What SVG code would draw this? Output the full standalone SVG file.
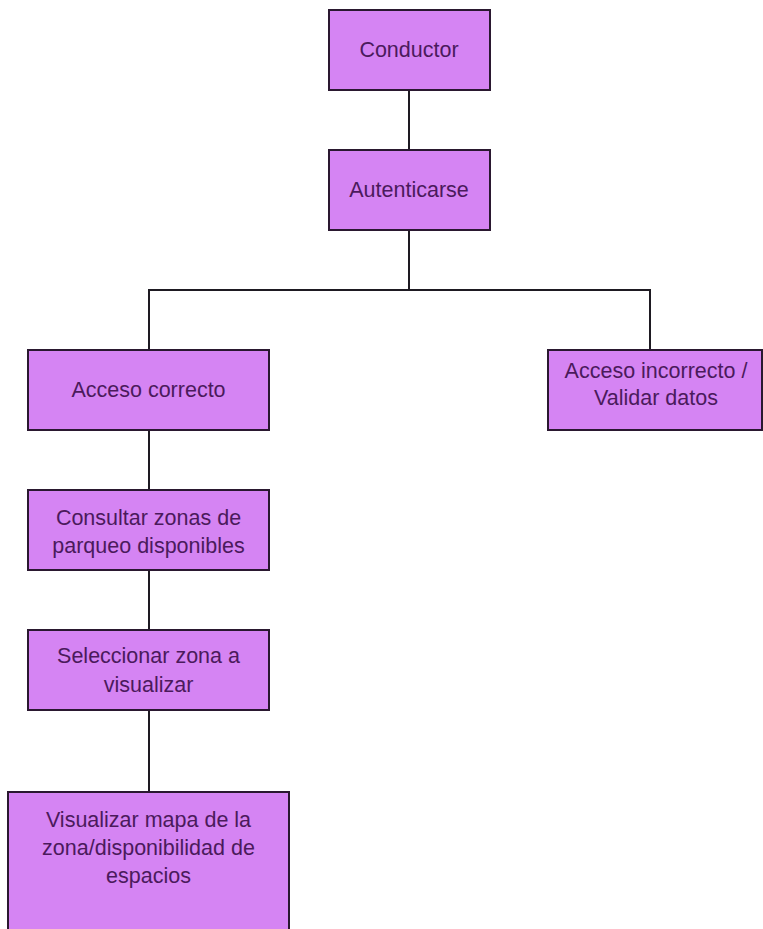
<svg xmlns="http://www.w3.org/2000/svg" width="763" height="929" viewBox="0 0 763 929">
  <style>
    .box { fill: #d584f3; stroke: #2a1830; stroke-width: 2; }
    .lbl { font-family: "Liberation Sans", Arial, sans-serif; font-size: 21.5px; fill: #4b1a5c; text-anchor: middle; }
    .wire { fill: none; stroke: #1e1a22; stroke-width: 2; }
  </style>
  <rect width="763" height="929" fill="#ffffff"/>

  <!-- connectors -->
  <g id="connectors">
    <line class="wire" x1="409" y1="90" x2="409" y2="150"/>
    <polyline class="wire" points="409,230 409,290 149,290 149,350"/>
    <polyline class="wire" points="409,290 650,290 650,350"/>
    <line class="wire" x1="149" y1="430" x2="149" y2="490"/>
    <line class="wire" x1="149" y1="570" x2="149" y2="630"/>
    <line class="wire" x1="149" y1="710" x2="149" y2="792"/>
  </g>

  <g id="conductor">
    <rect class="box" x="329" y="10" width="161" height="80"/>
    <text class="lbl" x="409" y="57">Conductor</text>
  </g>

  <g id="autenticarse">
    <rect class="box" x="329" y="150" width="161" height="80"/>
    <text class="lbl" x="409" y="197">Autenticarse</text>
  </g>

  <g id="acceso-correcto">
    <rect class="box" x="28" y="350" width="241" height="80"/>
    <text class="lbl" x="148.5" y="397">Acceso correcto</text>
  </g>

  <g id="acceso-incorrecto">
    <rect class="box" x="548" y="350" width="214" height="80"/>
    <text class="lbl" x="656" y="378">Acceso incorrecto /</text>
    <text class="lbl" x="656" y="405">Validar datos</text>
  </g>

  <g id="consultar-zonas">
    <rect class="box" x="28" y="490" width="241" height="80"/>
    <text class="lbl" x="148.5" y="525">Consultar zonas de</text>
    <text class="lbl" x="148.5" y="553">parqueo disponibles</text>
  </g>

  <g id="seleccionar-zona">
    <rect class="box" x="28" y="630" width="241" height="80"/>
    <text class="lbl" x="148.5" y="663">Seleccionar zona a</text>
    <text class="lbl" x="148.5" y="692">visualizar</text>
  </g>

  <g id="visualizar-mapa">
    <rect class="box" x="8" y="792" width="281" height="150"/>
    <text class="lbl" x="148.5" y="827">Visualizar mapa de la</text>
    <text class="lbl" x="148.5" y="855">zona/disponibilidad de</text>
    <text class="lbl" x="148.5" y="883">espacios</text>
  </g>
</svg>
